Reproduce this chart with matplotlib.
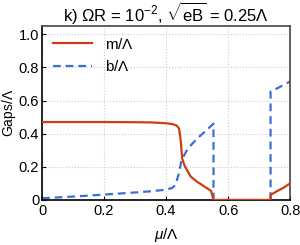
import numpy as np
import matplotlib.pyplot as plt

plt.rcParams['font.family'] = ['Liberation Sans', 'DejaVu Sans']
plt.rcParams['mathtext.fontset'] = 'custom'
plt.rcParams['mathtext.rm'] = 'Liberation Sans'
plt.rcParams['mathtext.it'] = 'Liberation Sans:italic'

# m/Lambda
mu_m = [0.0, 0.1, 0.2, 0.3, 0.35, 0.40, 0.42, 0.435, 0.442, 0.446, 0.449, 0.452,
        0.46, 0.48, 0.50, 0.52, 0.545, 0.553, 0.60, 0.65, 0.70, 0.737,
        0.737, 0.76, 0.78, 0.80]
m_vals = [0.47, 0.47, 0.47, 0.469, 0.468, 0.463, 0.458, 0.448, 0.43, 0.38, 0.32, 0.25,
          0.205, 0.14, 0.11, 0.085, 0.055, 0.0, 0.0, 0.0, 0.0, 0.0,
          0.03, 0.055, 0.075, 0.10]

# b/Lambda, two branches
mu_b1 = [0.0, 0.1, 0.2, 0.3, 0.35, 0.40, 0.42, 0.43, 0.44, 0.45, 0.47, 0.50, 0.53, 0.553, 0.553]
b1_vals = [0.01, 0.02, 0.032, 0.045, 0.052, 0.062, 0.072, 0.09, 0.15, 0.24, 0.31, 0.37, 0.42, 0.46, 0.0]
mu_b2 = [0.737, 0.737, 0.76, 0.78, 0.80]
b2_vals = [0.0, 0.655, 0.675, 0.695, 0.715]

xticks = [0, 0.2, 0.4, 0.6, 0.8]
xticklabels = ['0', '0.2', '0.4', '0.6', '0.8']
yticks = [0, 0.2, 0.4, 0.6, 0.8, 1.0]
yticklabels = ['0', '0.2', '0.4', '0.6', '0.8', '1.0']

red = '#cc3d14'
blue = '#3b6fd4'

fig = plt.figure(figsize=(3.0, 2.45), dpi=100)
ax = fig.add_axes([0.14, 0.184, 0.827, 0.71])

ax.plot(mu_m, m_vals, color=red, lw=1.6, label=r'm/$\Lambda$', zorder=3)
ax.plot(mu_b1, b1_vals, color=blue, lw=1.6, ls=(0, (3.5, 2.2)), label=r'b/$\Lambda$', zorder=2)
ax.plot(mu_b2, b2_vals, color=blue, lw=1.6, ls=(0, (3.5, 2.2)), zorder=2)

ax.set_xlim(0, 0.8)
ax.set_ylim(0, 1.05)
ax.set_xticks(xticks)
ax.set_xticklabels(xticklabels)
ax.set_yticks(yticks)
ax.set_yticklabels(yticklabels)
ax.tick_params(direction='in', length=3, width=0.8, labelsize=10.5, pad=2)
ax.tick_params(axis='x', pad=3)
ax.grid(True, color='#cccccc', ls=':', lw=0.8)

for side in ['left', 'bottom']:
    ax.spines[side].set_color('black')
    ax.spines[side].set_linewidth(1.2)
for side in ['top', 'right']:
    ax.spines[side].set_color('#444444')
    ax.spines[side].set_linewidth(1.2)

ax.set_xlabel(r'$\mathit{\mu}$/$\Lambda$', fontsize=11, labelpad=6)
ax.set_ylabel(r'Gaps/$\Lambda$', fontsize=10)
ax.yaxis.set_label_coords(-0.098, 0.5)
ax.set_title(r'k) $\Omega$R = 10$^{-2}$, $\sqrt{\rm eB}$ = 0.25$\Lambda$', fontsize=12, pad=3)

leg = ax.legend(loc='upper left', frameon=False, fontsize=11, handlelength=2.6,
                borderaxespad=0.3, labelspacing=0.5)

fig.savefig('out.png', dpi=100)
